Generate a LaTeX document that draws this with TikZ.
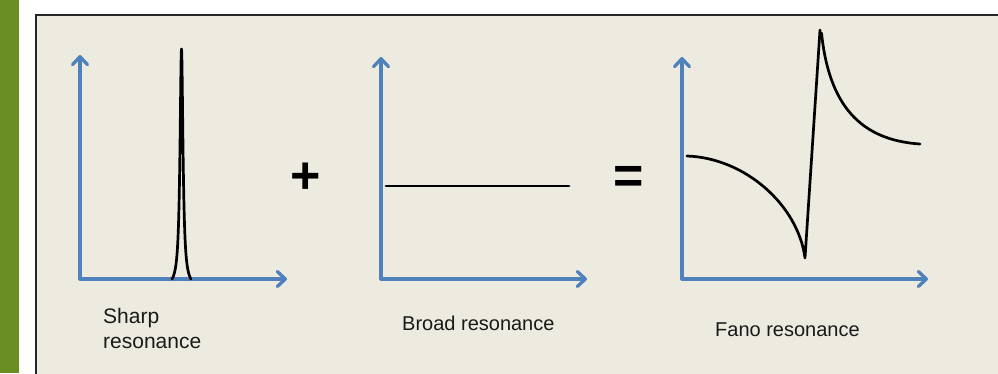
\documentclass[tikz,border=0pt]{standalone}
\usepackage{fontspec}
\setmainfont{Liberation Sans}
\usetikzlibrary{arrows.meta}
\definecolor{barGreen}{HTML}{6B8E23}
\definecolor{panelBg}{HTML}{EDEBE0}
\definecolor{axisBlue}{HTML}{4F81BD}
\tikzset{
  axisline/.style={draw=axisBlue, line width=3.3pt, line cap=round,
    -{Straight Barb[length=8pt,width=15pt,line cap=round,line join=round]}},
  curve/.style={draw=black, line width=2.7pt, line cap=round, line join=round},
  label/.style={inner sep=0pt, anchor=base west, font=\fontsize{20}{25}\selectfont, align=left, text=black!90},
  opsign/.style={inner sep=0pt, anchor=center, font=\fontsize{52}{52}\selectfont\bfseries}
}
\begin{document}
\begin{tikzpicture}[x=1pt,y=-1pt]
\useasboundingbox (0,0) rectangle (998,373);
\clip (0,0) rectangle (998,373);
\fill[white] (0,0) rectangle (998,373);
\fill[barGreen] (0,0) rectangle (19,373);
\draw[fill=panelBg, draw=black!85, line width=2pt] (36,15) rectangle (1010,390);

% graph 1: sharp resonance
\coordinate (o1) at (80,279);
\coordinate (y1) at (80,55);
\coordinate (x1) at (287,279);
\draw[axisline] (o1) -- (y1);
\draw[axisline] (o1) -- (x1);
\draw[curve] plot[domain=-9.5:9.5, samples=301] ({181.5+\x},{279 - 230*(1/(1+(\x/1.8)^2) - 0.0347)/0.9653});

% graph 2: broad resonance
\coordinate (o2) at (381,279);
\coordinate (y2) at (381,57);
\coordinate (x2) at (587,279);
\draw[axisline] (o2) -- (y2);
\draw[axisline] (o2) -- (x2);
\coordinate (b1) at (386,186);
\coordinate (b2) at (569,186);
\draw[curve] (b1) -- (b2);

% graph 3: Fano resonance
\coordinate (o3) at (682,279);
\coordinate (y3) at (682,57);
\coordinate (x3) at (928,279);
\draw[axisline] (o3) -- (y3);
\draw[axisline] (o3) -- (x3);
\coordinate (f0) at (687,156);
\coordinate (fmin) at (805,258);
\coordinate (fmax) at (820,30);
\coordinate (g0) at (821.5,33);
\coordinate (g1) at (920,144);
\draw[curve] (f0) .. controls (745,158) and (798,205) .. (fmin) -- (fmax);
\draw[curve] (g0) .. controls (829,105) and (860,140) .. (g1);

% operators
\node[opsign] (plus) at (306,178) {+};
\node[opsign] (equals) at (628.5,179.5) {=};

% labels
\node[label, font=\fontsize{21}{25}\selectfont] (lsharp) at (103,348) {Sharp\\resonance};
\node[label] (lbroad) at (402,330) {Broad resonance};
\node[label] (lfano) at (715,336) {Fano resonance};
\end{tikzpicture}
\end{document}
